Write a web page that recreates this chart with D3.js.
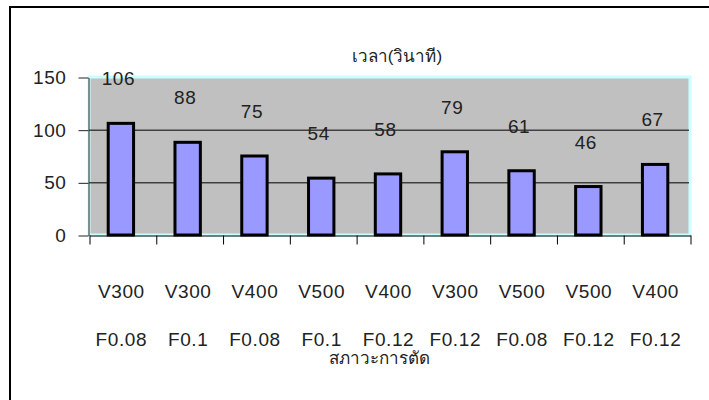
<!DOCTYPE html>
<html>
<head>
<meta charset="utf-8">
<script src="https://cdn.jsdelivr.net/npm/d3@7"></script>
<style>
  body { margin: 0; background: #fff; }
  text { font-family: "Liberation Sans", Arial, sans-serif; fill: #222; }
  .num { letter-spacing: 0.6px; }
</style>
</head>
<body>
<div id="chart"></div>
<script>
// data
const speeds = ["V300", "V300", "V400", "V500", "V400", "V300", "V500", "V500", "V400"];
const feeds = ["F0.08", "F0.1", "F0.08", "F0.1", "F0.12", "F0.12", "F0.08", "F0.12", "F0.12"];
const times = [106, 88, 75, 54, 58, 79, 61, 46, 67];
const yTicks = [0, 50, 100, 150];
const chartTitle = "เวลา(วินาที)";
const xTitle = "สภาวะการตัด";

const width = 709, height = 400;
const plot = { left: 89, right: 690, top: 77, bottom: 235 };

let svg = d3.select("#chart").append("svg")
    .attr("width", width)
    .attr("height", height);

// outer chart frame (runs past the window edge)
svg.append("rect")
    .attr("x", 10).attr("y", 7)
    .attr("width", 720).attr("height", 420)
    .attr("fill", "#fff")
    .attr("stroke", "#000")
    .attr("stroke-width", 2);

let idx = d3.range(times.length);

let xScale = d3.scaleBand()
    .domain(idx)
    .range([plot.left, plot.right])
    .paddingInner(0.62)
    .paddingOuter(0.31);

let edgeScale = d3.scaleLinear()
    .domain([0, times.length])
    .range([plot.left, plot.right]);

let yScale = d3.scaleLinear()
    .domain([0, 150])
    .range([plot.bottom, plot.top]);

// plot area
svg.append("rect")
    .attr("x", plot.left)
    .attr("y", plot.top)
    .attr("width", plot.right - plot.left)
    .attr("height", plot.bottom - plot.top)
    .attr("fill", "#c0c0c0")
    .attr("stroke", "#ccffff")
    .attr("stroke-width", 3);

// gridlines
svg.append("g")
    .selectAll("line")
    .data(yTicks.filter(d => d > 0 && d < 150))
    .join("line")
    .attr("x1", plot.left).attr("x2", plot.right - 1)
    .attr("y1", d => yScale(d) + 0.5).attr("y2", d => yScale(d) + 0.5)
    .attr("stroke", "#000");

// bars
svg.append("g")
    .selectAll("rect")
    .data(times)
    .join("rect")
    .attr("x", (d, i) => xScale(i) - 1.5)
    .attr("y", d => yScale(d))
    .attr("width", xScale.bandwidth())
    .attr("height", d => plot.bottom - yScale(d))
    .attr("fill", "#9999ff")
    .attr("stroke", "#000")
    .attr("stroke-width", 3);

// value labels
svg.append("g")
    .selectAll("text")
    .data(times)
    .join("text")
    .attr("class", "num")
    .attr("x", (d, i) => xScale(i) + xScale.bandwidth() / 2 - 4)
    .attr("y", d => yScale(d) - 38)
    .attr("text-anchor", "middle")
    .attr("font-size", 19)
    .text(d => d);

// y axis
let yAxis = d3.axisLeft(yScale)
    .tickValues(yTicks)
    .tickSize(10)
    .tickSizeOuter(0)
    .tickPadding(12);

let gy = svg.append("g")
    .attr("class", "axis y-axis")
    .attr("transform", `translate(${plot.left - 0.5}, 0.5)`)
    .call(yAxis);
gy.selectAll("text")
    .attr("class", "num")
    .attr("font-size", 19)
    .attr("font-family", null)
    .style("fill", "#222");
gy.selectAll("line, path").attr("stroke", "#222");

// x axis: ticks on category edges
let xAxis = d3.axisBottom(edgeScale)
    .tickValues(d3.range(times.length + 1))
    .tickSize(9)
    .tickSizeOuter(0)
    .tickFormat("");

let gx = svg.append("g")
    .attr("class", "axis x-axis")
    .attr("transform", `translate(0.5, ${plot.bottom + 0.5})`)
    .call(xAxis);
gx.selectAll("line, path").attr("stroke", "#000");

// category labels (two rows)
svg.append("g")
    .selectAll("text")
    .data(speeds)
    .join("text")
    .attr("class", "num")
    .attr("x", (d, i) => xScale(i) + xScale.bandwidth() / 2 - 1)
    .attr("y", 298)
    .attr("text-anchor", "middle")
    .attr("font-size", 19)
    .text(d => d);

svg.append("g")
    .selectAll("text")
    .data(feeds)
    .join("text")
    .attr("class", "num")
    .attr("x", (d, i) => xScale(i) + xScale.bandwidth() / 2 - 1)
    .attr("y", 346)
    .attr("text-anchor", "middle")
    .attr("font-size", 19)
    .text(d => d);

// titles
svg.append("text")
    .attr("x", 397)
    .attr("y", 62)
    .attr("text-anchor", "middle")
    .attr("font-size", 17)
    .text(chartTitle);

svg.append("text")
    .attr("x", 379)
    .attr("y", 364)
    .attr("text-anchor", "middle")
    .attr("font-size", 17)
    .text(xTitle);
</script>
</body>
</html>
